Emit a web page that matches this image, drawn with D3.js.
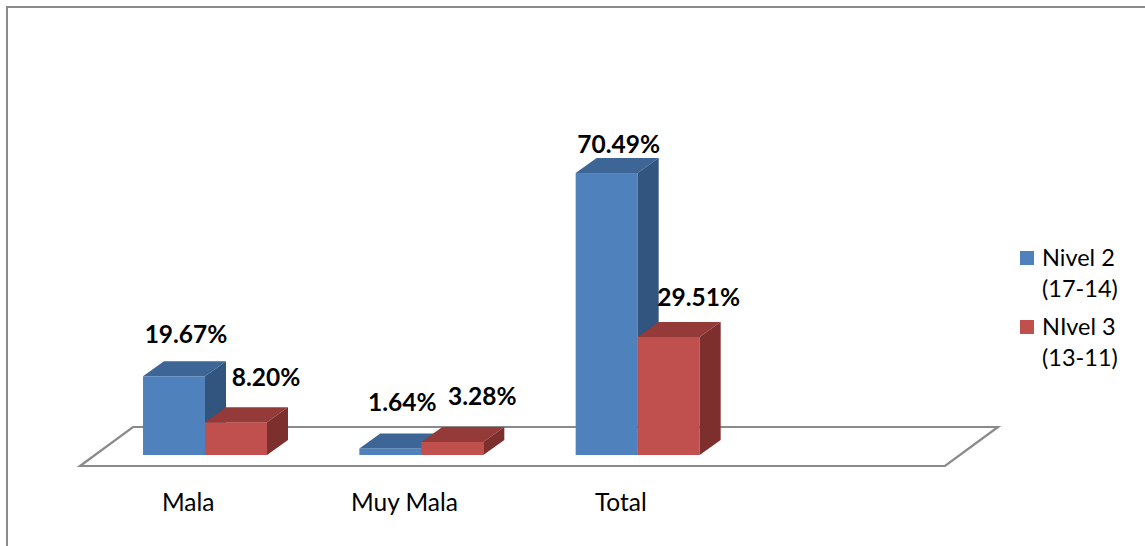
<!DOCTYPE html>
<html>
<head>
<meta charset="utf-8">
<script src="https://cdn.jsdelivr.net/npm/d3@7"></script>
<style>
  body { margin: 0; background: #fff; }
  svg { display: block; }
</style>
</head>
<body>
<div id="graph"></div>
<script>
var categories = ["Mala", "Muy Mala", "Total"];
var series = ["Nivel 2 (17-14)", "NIvel 3 (13-11)"];
var legendLines = [["Nivel 2", "(17-14)"], ["NIvel 3", "(13-11)"]];
var nivel2 = [19.67, 1.64, 70.49];
var nivel3 = [8.20, 3.28, 29.51];

var width = 1145, height = 546;
var fontName = "Lato, 'Open Sans', sans-serif";

var front = ["#4f81bd", "#c0504d"],
    top_ = ["#3d6596", "#943a38"],
    side = ["#32557f", "#7c2f2d"];

var data = categories.map(function(c, i) {
  return { cat: c, vals: [nivel2[i], nivel3[i]] };
});

var chart = d3.select("#graph").append("svg")
  .attr("width", width)
  .attr("height", height);

chart.append("rect").attr("width", width).attr("height", height).attr("fill", "#fff");

// outer border (only top and left visible)
chart.append("path")
  .attr("d", "M7," + height + "V7H" + width)
  .attr("fill", "none")
  .attr("stroke", "#8a8a8a")
  .attr("stroke-width", 2);

// scales
var xScale = d3.scaleBand()
  .domain(categories)
  .range([80, 729]);

var xSub = d3.scaleBand()
  .domain(series)
  .range([0, 124]);

var yScale = d3.scaleLinear()
  .domain([0, 80])
  .range([455, 135]);

// labels are placed on a slightly flatter scale in the original
var yLabel = d3.scaleLinear()
  .domain([0, 80])
  .range([417, 117.4]);

var barShift = 63;       // from band start to first bar front
var depthX = 21, depthY = 15;

// floor
var floorFront = yScale(0) + 11, floorBack = floorFront - 39;
chart.append("path")
  .attr("d", "M80," + floorFront + "L945," + floorFront + "L998," + floorBack + "L133," + floorBack + "Z")
  .attr("fill", "#fff")
  .attr("stroke", "#8a8a8a")
  .attr("stroke-width", 2.2);

// bars
var groups = chart.selectAll(".grp")
  .data(data)
  .enter().append("g")
  .attr("class", "grp");

series.forEach(function(s, k) {
  groups.each(function(d) {
    var g = d3.select(this);
    var x0 = xScale(d.cat) + barShift + xSub(s);
    var x1 = x0 + xSub.bandwidth();
    var y0 = yScale(0), y1 = yScale(d.vals[k]);
    // front
    g.append("rect")
      .attr("x", x0).attr("y", y1)
      .attr("width", x1 - x0).attr("height", y0 - y1)
      .attr("fill", front[k]);
    // top
    g.append("path")
      .attr("d", "M" + x0 + "," + y1 + "L" + (x0 + depthX) + "," + (y1 - depthY) +
                 "L" + (x1 + depthX) + "," + (y1 - depthY) + "L" + x1 + "," + y1 + "Z")
      .attr("fill", top_[k]);
    // side
    g.append("path")
      .attr("d", "M" + x1 + "," + y1 + "L" + (x1 + depthX) + "," + (y1 - depthY) +
                 "L" + (x1 + depthX) + "," + (y0 - depthY) + "L" + x1 + "," + y0 + "Z")
      .attr("fill", side[k]);
  });
});

// value labels
var labelOffset = [12, 30];
series.forEach(function(s, k) {
  chart.selectAll(".lbl" + k)
    .data(data)
    .enter().append("text")
    .attr("class", "lbl" + k)
    .attr("x", function(d) { return xScale(d.cat) + barShift + xSub(s) + xSub.bandwidth() / 2 + labelOffset[k]; })
    .attr("y", function(d) { return yLabel(d.vals[k]); })
    .attr("text-anchor", "middle")
    .attr("font-family", fontName)
    .attr("font-weight", "bold")
    .attr("font-size", "24.5px")
    .attr("fill", "#000")
    .text(function(d) { return d.vals[k].toFixed(2) + "%"; });
});

// category labels
chart.selectAll(".cat")
  .data(categories)
  .enter().append("text")
  .attr("class", "cat")
  .attr("x", function(d) { return xScale(d) + xScale.bandwidth() / 2; })
  .attr("y", 511)
  .attr("text-anchor", "middle")
  .attr("font-family", fontName)
  .attr("font-size", "24.5px")
  .attr("fill", "#000")
  .text(function(d) { return d; });

// legend
var legend = chart.selectAll(".leg")
  .data(series)
  .enter().append("g")
  .attr("class", "leg")
  .attr("transform", function(d, i) { return "translate(1020," + (251 + i * 69) + ")"; });

legend.append("rect")
  .attr("width", 14).attr("height", 14)
  .attr("fill", function(d, i) { return front[i]; });

legend.each(function(d, i) {
  var g = d3.select(this);
  legendLines[i].forEach(function(line, j) {
    g.append("text")
      .attr("x", 22)
      .attr("y", 15 + j * 31)
      .attr("font-family", fontName)
      .attr("font-size", "23.5px")
      .attr("fill", "#000")
      .text(line);
  });
});
</script>
</body>
</html>
